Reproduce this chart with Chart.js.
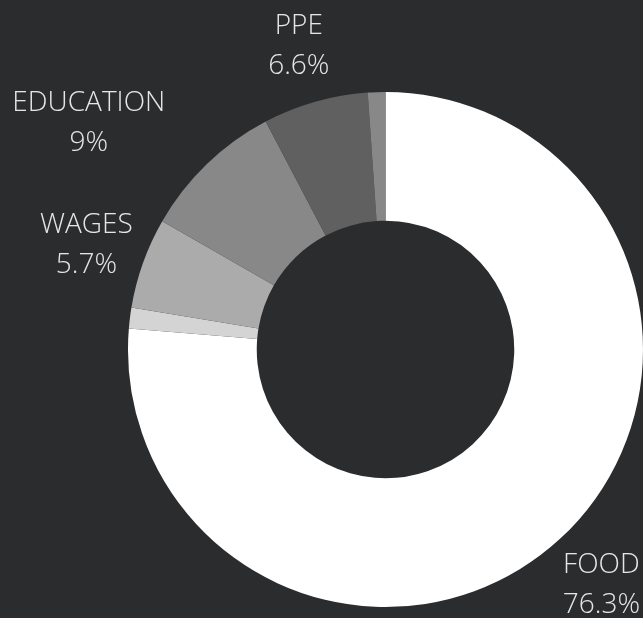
<!DOCTYPE html>
<html>
<head>
<meta charset="utf-8">
<script src="https://cdn.jsdelivr.net/npm/chart.js@4/dist/chart.umd.min.js"></script>
<style>
    html, body { margin: 0; padding: 0; background: #2b2c2e; }
    canvas { display: block; }
</style>
</head>
<body>
<canvas id="spendChart" width="643" height="618"></canvas>
<script>
// Data (shares of spending, %)
const categories = ['FOOD', 'OTHER', 'WAGES', 'EDUCATION', 'PPE', 'MISC'];
const shares = [76.3, 1.3, 5.7, 9, 6.6, 1.1];
const sliceColors = ['#ffffff', '#d4d4d4', '#ababab', '#888888', '#606060', '#888888'];

// Outside labels: name on top, percentage below
const outLabels = {
    id: 'outLabels',
    afterDatasetsDraw(chart) {
        const ctx = chart.ctx;
        const meta = chart.getDatasetMeta(0);
        const W = chart.width;
        ctx.save();
        ctx.font = '300 28px "Open Sans"';
        ctx.fillStyle = '#e6e6e6';
        ctx.textBaseline = 'alphabetic';

        meta.data.forEach((arc, i) => {
            const value = shares[i];
            if (value < 2) return; // tiny slices get no label

            const p = arc.getProps(['x', 'y', 'startAngle', 'endAngle', 'outerRadius'], true);
            const mid = (p.startAngle + p.endAngle) / 2;
            const vx = Math.cos(mid), vy = Math.sin(mid);
            const r = p.outerRadius + 60;
            const ax = p.x + vx * r;
            const ay = p.y + vy * r;

            const line1 = categories[i];
            const line2 = value + '%';
            const w = Math.max(ctx.measureText(line1).width, ctx.measureText(line2).width);

            // block centre; diagonal labels are pushed away from the ring
            let cx = ax;
            if (Math.abs(vx) > 0.6 && Math.abs(vy) > 0.6) {
                cx = vx < 0 ? ax - w / 2 : ax + w / 2;
            }
            cx = Math.min(Math.max(cx, 4 + w / 2), W - 3 - w / 2);

            ctx.textAlign = 'center';
            ctx.fillText(line1, cx, ay - 10);
            ctx.fillText(line2, cx, ay + 30);
        });
        ctx.restore();
    }
};

new Chart(document.getElementById('spendChart'), {
    type: 'doughnut',
    data: {
        labels: categories,
        datasets: [{
            data: shares,
            backgroundColor: sliceColors,
            borderWidth: 0,
            hoverOffset: 0
        }]
    },
    options: {
        responsive: false,
        animation: false,
        cutout: '50%',
        layout: {
            padding: { left: 128, top: 92, right: 0, bottom: 11 }
        },
        plugins: {
            legend: { display: false },
            tooltip: { enabled: false }
        }
    },
    plugins: [outLabels]
});
</script>
</body>
</html>
